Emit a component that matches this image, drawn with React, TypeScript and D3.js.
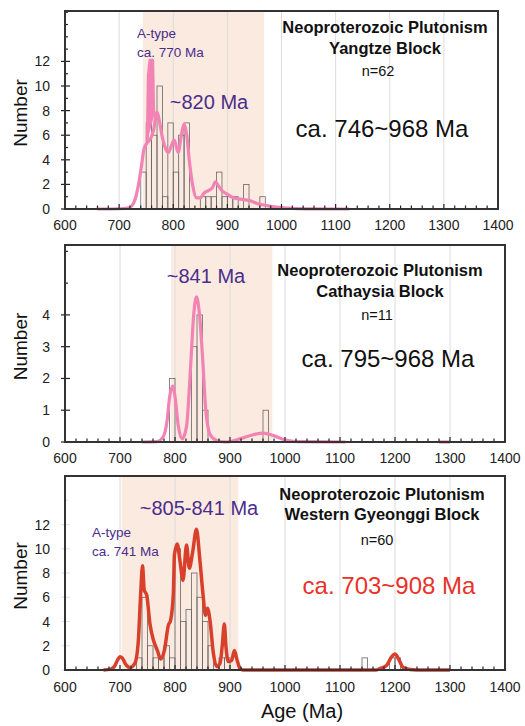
import React from 'react';
import * as d3 from 'd3';

// histogram bins (bin start, Ma) and counts
const yzBins = [740, 750, 760, 770, 780, 790, 800, 810, 820, 850, 860, 870, 880, 890, 900, 910, 930, 960];
const yzCounts = [3, 7, 6, 10, 1, 7, 3, 6, 7, 1, 1, 1, 3, 1, 1, 1, 2, 1];
const caBins = [790, 830, 840, 850, 960];
const caCounts = [2, 3, 4, 1, 1];
const wgBins = [730, 740, 750, 760, 770, 780, 790, 800, 810, 820, 830, 840, 850, 860, 880, 890, 1140, 1190, 1200];
const wgCounts = [1, 6, 2, 1, 1, 2, 1, 10, 4, 5, 8, 6, 4, 2, 1, 1, 1, 1, 1];

// probability density curves [age, value]
const yzCurve: [number, number][] = [
  [660, 0], [700, 0.02], [718, 0.1], [728, 0.6], [735, 1.8], [741, 3.4], [746, 4.9], [752, 5.4], [758, 5.7],
  [764, 6.5], [770, 7.9], [775, 7.0], [780, 5.8], [786, 4.9], [791, 4.6], [797, 5.2], [802, 5.6], [809, 4.6],
  [815, 6.0], [820, 6.9], [825, 6.0], [830, 3.8], [836, 1.9], [843, 0.9], [850, 0.9], [857, 1.3], [865, 1.5],
  [872, 1.7], [878, 2.2], [883, 1.9], [890, 1.5], [900, 1.2], [912, 0.9], [925, 0.8], [940, 0.7], [955, 0.45],
  [970, 0.3], [990, 0.15], [1020, 0.05], [1060, 0.01], [1125, 0],
];
const yzSpike: [number, number][] = [[752, 5.5], [754, 10.9], [757, 12.1], [762, 12.1], [764, 7.5]];
const caCurve: [number, number][] = [
  [740, 0], [767, 0.01], [779, 0.18], [785, 0.6], [791, 1.5], [796, 1.76], [800, 1.43], [806, 0.5], [813, 0.1],
  [821, 0.5], [828, 2.26], [834, 4.0], [839, 4.57], [844, 4.1], [850, 2.7], [856, 1.0], [864, 0.23], [876, 0.05],
  [894, 0], [918, 0.1], [942, 0.23], [961, 0.28], [979, 0.2], [1003, 0.05], [1027, 0.01], [1110, 0],
];
const caTail: [number, number][] = [[1280, 0], [1300, 0]];
const wgCurve: [number, number][] = [
  [670, 0], [682, 0.05], [690, 0.3], [696, 0.85], [700, 1.1], [704, 1.0], [710, 0.5], [718, 0.2], [727, 0.55],
  [733, 2.2], [737.6, 6.3], [741, 8.6], [744, 6.6], [748.5, 6.2], [754.5, 3.8], [760.6, 2.5], [768, 1.6],
  [774, 0.9], [780.6, 1.6], [788, 3.7], [792, 4.1], [797, 6.3], [799, 9.5], [804, 10.4], [809, 9.0], [814.5, 7.4],
  [821, 10.3], [826, 8.4], [832, 9.7], [839, 11.6], [845, 9.2], [851, 6.2], [855.5, 4.5], [859, 5.1],
  [863.6, 4.1], [869.7, 1.4], [875.8, 0.27], [881.8, 0.55], [886, 2.05], [889.7, 3.8], [892.7, 1.9], [897, 0.7],
  [903, 0.8], [908, 1.6], [913, 0.8], [918, 0.14], [924, 0], [1165, 0], [1173, 0.13], [1185, 0.4], [1194, 1.1],
  [1200, 1.31], [1206, 0.95], [1215, 0.2], [1227, 0.05], [1250, 0], [1300, 0],
];

const ageTicks = [600, 700, 800, 900, 1000, 1100, 1200, 1300, 1400];
const countTicks16 = [0, 2, 4, 6, 8, 10, 12];
const countTicks6 = [0, 1, 2, 3, 4];

const FONT = 'Liberation Sans, Arial, sans-serif';
const PURPLE = '#4b2d8c';
const PINK = '#f283b4';

type Pt = [number, number];
type PanelProps = {
  left: number; right: number; top: number; bottom: number; yMax: number;
  yTicks: number[]; minorStep: number; tickColor: string;
  bins: number[]; counts: number[]; curves: Pt[][]; spike?: Pt[];
  color: string; width: number; shade: [number, number];
  titles: string[]; titleX: number; titleY: number[];
  nText: string; nX: number; nY: number;
  range: string; rangeX: number; rangeY: number; rangeColor: string;
  peak: string; peakX: number; peakY: number;
  aType?: { x: number; y: number; age: string };
  labelY: number;
};

const Panel = (p: PanelProps) => {
  const x = d3.scaleLinear().domain([600, 1400]).range([p.left, p.right]);
  const y = d3.scaleLinear().domain([0, p.yMax]).range([p.bottom, p.top]);
  const line = d3.line<Pt>().x((d) => x(d[0])).y((d) => y(d[1])).curve(d3.curveMonotoneX);
  const minorX = d3.range(600, 1401, 20);
  const minorY = d3.range(0, p.yMax, p.minorStep);
  return (
    <g>
      <rect x={x(p.shade[0])} y={p.top} width={x(p.shade[1]) - x(p.shade[0])} height={p.bottom - p.top} fill="#fbeadf" />
      {ageTicks.slice(1, -1).map((t) => (
        <line key={'g' + t} x1={x(t)} x2={x(t)} y1={p.top} y2={p.bottom} stroke="#dcdcdc" strokeWidth={1} />
      ))}
      {p.bins.map((b, i) => (
        <rect key={'b' + i} x={x(b)} y={y(p.counts[i])} width={x(b + 10) - x(b)} height={y(0) - y(p.counts[i])}
          fill="none" stroke="#666" strokeWidth={0.8} />
      ))}
      {p.curves.map((c, i) => (
        <path key={'c' + i} d={line(c) || ''} fill="none" stroke={p.color} strokeWidth={p.width} strokeLinejoin="round" />
      ))}
      {p.spike && (
        <path d={d3.line<Pt>().x((d) => x(d[0])).y((d) => y(d[1]))(p.spike) || ''} fill={p.color} stroke={p.color} strokeWidth={3} strokeLinejoin="round" />
      )}
      {minorX.map((t) => (
        <line key={'mx' + t} x1={x(t)} x2={x(t)} y1={p.bottom} y2={p.bottom - (t % 100 === 0 ? 5 : 3.5)} stroke="#222" strokeWidth={1.2} />
      ))}
      {minorY.map((t) => (
        <line key={'my' + t} x1={p.left - (p.yTicks.includes(t) ? 4 : 0)} x2={p.left + (p.yTicks.includes(t) ? 5 : 3)}
          y1={y(t)} y2={y(t)} stroke={p.tickColor} strokeWidth={1.2} />
      ))}
      <rect x={p.left} y={p.top} width={p.right - p.left} height={p.bottom - p.top} fill="none" stroke="#333" strokeWidth={2} />
      {ageTicks.map((t) => (
        <text key={'xl' + t} x={x(t)} y={p.labelY} textAnchor="middle" fontSize={14} fill="#222">{t}</text>
      ))}
      {p.yTicks.map((t) => (
        <text key={'yl' + t} x={p.left - 15} y={y(t) + 5} textAnchor="end" fontSize={14} fill="#222">{t}</text>
      ))}
      <text transform={`translate(27,${(p.top + p.bottom) / 2 + 3}) rotate(-90)`} textAnchor="middle" fontSize={19} fill="#111">Number</text>
      {p.titles.map((t, i) => (
        <text key={'t' + i} x={p.titleX} y={p.titleY[i]} textAnchor="middle" fontSize={16.5} fontWeight="bold" fill="#111">{t}</text>
      ))}
      <text x={p.nX} y={p.nY} textAnchor="middle" fontSize={14.5} fill="#111">{p.nText}</text>
      <text x={p.rangeX} y={p.rangeY} textAnchor="middle" fontSize={24} fill={p.rangeColor}>{p.range}</text>
      <text x={p.peakX} y={p.peakY} textAnchor="middle" fontSize={20} fill={PURPLE}>{p.peak}</text>
      {p.aType && (
        <g fill={PURPLE} fontSize={13.5}>
          <text x={p.aType.x} y={p.aType.y}>A-type</text>
          <text x={p.aType.x} y={p.aType.y + 19}>{p.aType.age}</text>
        </g>
      )}
    </g>
  );
};

export default function App() {
  return (
    <svg width={525} height={726} style={{ position: 'absolute', left: 0, top: 0, background: '#fff' }} fontFamily={FONT}>
      <Panel left={65} right={498} top={11} bottom={209} yMax={16.1} yTicks={countTicks16} minorStep={1} tickColor="#222"
        bins={yzBins} counts={yzCounts} curves={[yzCurve]} spike={yzSpike} color={PINK} width={3.2} shade={[744, 968]}
        titles={['Neoproterozoic Plutonism', 'Yangtze Block']} titleX={385} titleY={[33, 54]}
        nText="n=62" nX={378} nY={76} range="ca. 746~968 Ma" rangeX={382} rangeY={137} rangeColor="#111"
        peak="~820 Ma" peakX={209} peakY={109} aType={{ x: 137, y: 38, age: 'ca. 770 Ma' }} labelY={230} />
      <Panel left={65} right={505} top={245} bottom={442} yMax={6.2} yTicks={countTicks6} minorStep={1} tickColor="#222"
        bins={caBins} counts={caCounts} curves={[caCurve, caTail]} color={PINK} width={3.2} shade={[793, 977]}
        titles={['Neoproterozoic Plutonism', 'Cathaysia Block']} titleX={380} titleY={[276, 297]}
        nText="n=11" nX={377} nY={320} range="ca. 795~968 Ma" rangeX={388} rangeY={367} rangeColor="#111"
        peak="~841 Ma" peakX={206} peakY={283} labelY={463} />
      <Panel left={65} right={505} top={476} bottom={670} yMax={16} yTicks={countTicks16} minorStep={2} tickColor="#e4e4e4"
        bins={wgBins} counts={wgCounts} curves={[wgCurve]} color="#d8402c" width={3.5} shade={[703, 915]}
        titles={['Neoproterozoic Plutonism', 'Western Gyeonggi Block']} titleX={382} titleY={[500, 520]}
        nText="n=60" nX={377} nY={545} range="ca. 703~908 Ma" rangeX={389} rangeY={594} rangeColor="#e8322a"
        peak="~805-841 Ma" peakX={199} peakY={515} aType={{ x: 92, y: 537, age: 'ca. 741 Ma' }} labelY={692} />
      <text x={302} y={718} textAnchor="middle" fontSize={20} fill="#111">Age (Ma)</text>
    </svg>
  );
}
